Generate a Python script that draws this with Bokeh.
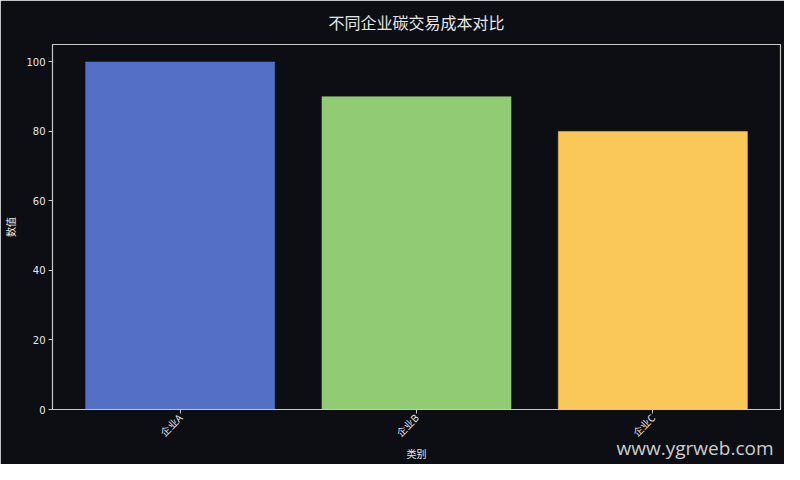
import math
from bokeh.plotting import figure
from bokeh.models import ColumnDataSource, FactorRange, Range1d, Title, FixedTicker
from bokeh.embed import file_html
from bokeh.resources import INLINE

categories = ["企业A", "企业B", "企业C"]
values = [100, 90, 80]
colors = ["#5470c6", "#91cc75", "#fac858"]
title_text = "不同企业碳交易成本对比"
x_label = "类别"
y_label = "数值"
y_ticks = [0, 20, 40, 60, 80, 100]
watermark = "www.ygrweb.com"

BG = "#0c0e14"
FG = "#e6e6e6"
SPINE = "#c8c8c8"
CJK = "Noto Sans CJK SC"

src = ColumnDataSource(dict(cat=categories, val=values, color=colors))

p = figure(
    width=784, height=464,
    x_range=FactorRange(*categories, range_padding=0.08 / 3),
    y_range=Range1d(0, 105),
    output_backend="svg", toolbar_location=None,
    background_fill_color=BG, border_fill_color=BG,
    min_border_left=44, min_border_right=4, min_border_top=38, min_border_bottom=55,
)
p.outline_line_color = SPINE
p.outline_line_width = 1.2

p.vbar(x="cat", top="val", bottom=0, width=0.8, source=src,
       fill_color="color", line_color="color", line_width=0.5)

p.title.text = title_text
p.title.align = "center"
p.title.vertical_align = "top"
p.title.text_color = FG
p.title.text_font = CJK
p.title.text_font_size = "16px"
p.title.text_font_style = "normal"
p.title.standoff = 18

p.xgrid.visible = False
p.ygrid.visible = False

for ax in (p.xaxis[0], p.yaxis[0]):
    ax.axis_line_color = SPINE
    ax.major_tick_line_color = SPINE
    ax.minor_tick_line_color = None
    ax.major_tick_out = 4
    ax.major_tick_in = 0
    ax.major_label_text_color = FG
    ax.major_label_text_font_size = "10px"
    ax.axis_label_text_color = FG
    ax.axis_label_text_font = CJK
    ax.axis_label_text_font_size = "10px"
    ax.axis_label_text_font_style = "normal"

p.yaxis[0].ticker = FixedTicker(ticks=y_ticks)
p.yaxis[0].major_label_text_font = "DejaVu Sans"
p.yaxis[0].axis_label = y_label
p.yaxis[0].axis_label_standoff = 5
p.yaxis[0].major_label_standoff = 3

p.xaxis[0].major_label_text_font = CJK
p.xaxis[0].major_label_orientation = math.pi / 4
p.xaxis[0].major_label_standoff = 2

# watermark, stacked right under the x axis (overlapping like the reference)
wm = Title(text=watermark, align="right", vertical_align="top", offset=7, standoff=-26,
           text_color="#f0f0f0", text_alpha=0.85, text_font="Open Sans",
           text_font_size="19px", text_font_style="normal")
p.add_layout(wm, "below")

# x axis label as a centred title below the axis
xl = Title(text=x_label, align="center", vertical_align="middle", standoff=-10,
           text_color=FG, text_font=CJK, text_font_size="10px",
           text_font_style="normal")
p.add_layout(xl, "below")

html = file_html(p, INLINE)
html = html.replace("<body>", '<body style="background:%s;">' % BG, 1)
open("out.html", "w").write(html)
